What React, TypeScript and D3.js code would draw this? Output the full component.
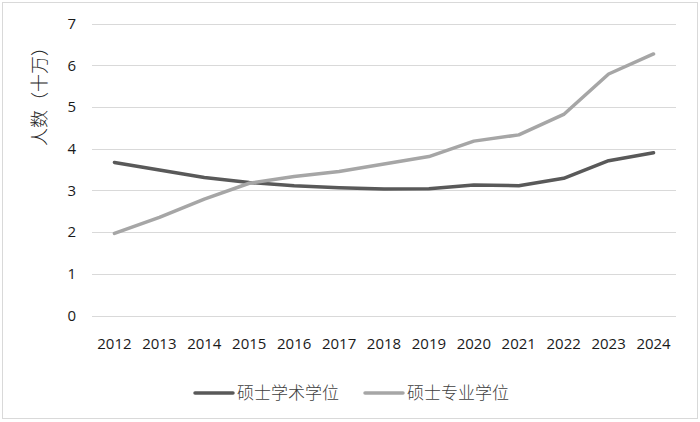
import React from "react";
import * as d3 from "d3";

const years = ["2012","2013","2014","2015","2016","2017","2018","2019","2020","2021","2022","2023","2024"];
const academic = [3.67, 3.49, 3.31, 3.19, 3.11, 3.06, 3.03, 3.04, 3.13, 3.11, 3.29, 3.71, 3.90];
const professional = [1.97, 2.35, 2.79, 3.17, 3.33, 3.45, 3.63, 3.81, 4.18, 4.33, 4.82, 5.79, 6.27];
const yTicks = [0, 1, 2, 3, 4, 5, 6, 7];
const seriesNames = ["硕士学术学位", "硕士专业学位"];
const yTitle = "人数（十万）";

const W = 700, H = 422;
const colors = ["#595959", "#a6a6a6"];

export default function App() {
  const x = d3.scaleBand<string>().domain(years).range([92, 676]);
  const y = d3.scaleLinear().domain([0, 7]).range([315.5, 23.5]);
  const line = d3.line<number>()
    .x((_, i) => (x(years[i]) as number) + x.bandwidth() / 2)
    .y((d) => y(d));
  const series = [academic, professional];
  const numFont = "'Open Sans', 'Liberation Sans', sans-serif";
  const cjkFont = "'Noto Sans CJK SC', sans-serif";
  const legendX = [195, 365];
  return (
    <svg width={W} height={H} style={{ position: "absolute", left: 0, top: 0, background: "#fff" }}>
      <rect x={2.5} y={2.5} width={695} height={416} fill="#fff" stroke="#d9d9d9" strokeWidth={1} />
      {yTicks.map((t) => (
        <g key={t}>
          <line x1={92} x2={676} y1={Math.round(y(t)) + 0.5} y2={Math.round(y(t)) + 0.5} stroke="#d9d9d9" strokeWidth={1} />
          <text x={76} y={y(t)} dy="0.36em" textAnchor="end" fontFamily={numFont} fontSize={15} fill="#1a1a1a">{t}</text>
        </g>
      ))}
      {years.map((yr) => (
        <text key={yr} x={(x(yr) as number) + x.bandwidth() / 2} y={349} textAnchor="middle" fontFamily={numFont} fontSize={15} fill="#1a1a1a">{yr}</text>
      ))}
      <text transform={`translate(46,92) rotate(-90)`} textAnchor="middle" fontFamily={cjkFont} fontSize={18} fontWeight={300} fill="#262626">{yTitle}</text>
      {series.map((s, i) => (
        <path key={i} d={line(s) as string} fill="none" stroke={colors[i]} strokeWidth={3.5} strokeLinejoin="round" strokeLinecap="round" />
      ))}
      {seriesNames.map((n, i) => (
        <g key={n}>
          <line x1={legendX[i]} x2={legendX[i] + 38} y1={393} y2={393} stroke={colors[i]} strokeWidth={3.5} strokeLinecap="round" />
          <text x={legendX[i] + 42} y={393} dy="0.36em" fontFamily={cjkFont} fontSize={17} fontWeight={300} fill="#404040">{n}</text>
        </g>
      ))}
    </svg>
  );
}
